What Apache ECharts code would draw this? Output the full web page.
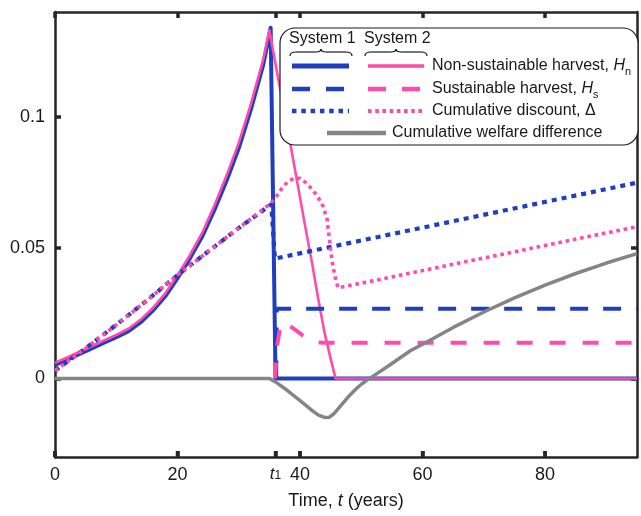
<!DOCTYPE html>
<html>
<head>
<meta charset="utf-8">
<script src="https://cdn.jsdelivr.net/npm/echarts@6/dist/echarts.min.js"></script>
<style>html,body{margin:0;padding:0;background:#fff;}#c{width:641px;height:516px;}</style>
</head>
<body>
<div id="c"></div>
<script>
// ---- data ----
const xTickVals = [0, 20, 36, 40, 60, 80];
const yTickVals = [0, 0.05, 0.1];

const blueHnT = [0,2,4,6,8,10,12,14,16,18,20,22,24,26,28,30,32,34,35.2,36.0,95];
const blueHnV = [0.0052,0.0072,0.0094,0.0115,0.0137,0.0158,0.0181,0.0215,0.0260,0.0314,0.0383,0.0458,0.0541,0.0643,0.0755,0.0880,0.1030,0.1200,0.1340,0,0];

const pinkHnT = [0,2,4,6,8,10,12,14,16,18,20,22,24,26,28,30,32,34,35,36,37,38,39,40,41,42,43,44,45,45.8,95];
const pinkHnV = [0.006,0.008,0.0102,0.0123,0.0145,0.0166,0.019,0.0225,0.027,0.0325,0.0395,0.047,0.0555,0.066,0.0775,0.090,0.105,0.122,0.133,0.120,0.1075,0.095,0.082,0.069,0.056,0.0435,0.030,0.0175,0.0075,0,0];

const blueHsT = [36.1, 36.2, 95];
const blueHsV = [0, 0.0266, 0.0266];

const pinkHsT = [35.9,36.3,36.8,37.3,38,39,40,41,42,43,44,95];
const pinkHsV = [0,0.013,0.0205,0.0215,0.0205,0.019,0.0172,0.0155,0.0143,0.0137,0.0136,0.0136];

const blueDiscT = [0,5,10,15,20,25,30,35.3,35.9,95];
const blueDiscV = [0.003,0.0115,0.0205,0.0298,0.0395,0.0485,0.0575,0.0665,0.0458,0.0748];

const pinkDiscT = [0,5,10,15,20,25,30,35,36,37,38,39,40,41,42,43,43.8,44.4,44.8,45.2,45.7,46.2,95];
const pinkDiscV = [0.003,0.0115,0.0205,0.0298,0.0395,0.0485,0.0575,0.0665,0.069,0.0725,0.0752,0.0765,0.0765,0.0747,0.0722,0.069,0.0655,0.061,0.053,0.045,0.039,0.0346,0.058];

const welfareT = [0,35,36,37,38,39,40,41,42,43,44,44.8,45.5,46,47,48,49,50,51,52,55,58,61,65,70,75,80,85,90,95];
const welfareV = [0,0,-0.0013,-0.003,-0.0047,-0.0066,-0.0085,-0.0104,-0.0123,-0.014,-0.0149,-0.0148,-0.0135,-0.0122,-0.0094,-0.0067,-0.0043,-0.0022,-0.0005,0.001,0.0057,0.0106,0.0143,0.0195,0.0254,0.0308,0.0357,0.0401,0.0441,0.0477];

// ---- styling ----
const BLUE = '#1f3fc0', PINK = '#ff4aae', GRAY = '#858585', INK = '#1a1a1a', FRAME = '#262626';
const FONT = '"Liberation Sans", Arial, sans-serif';
const GRID = { left: 55, right: 4, top: 12, bottom: 59 };
const zip = (t, v) => t.map((x, i) => [x, v[i]]);

function line(name, t, v, color, width, type, extra) {
  return Object.assign({
    name, type: 'line', data: zip(t, v), showSymbol: false, symbol: 'none',
    animation: false,
    lineStyle: { color, width, type, cap: 'butt', join: 'round' }
  }, extra || {});
}

const tickStyle = () => ({ color: FRAME, width: 3.5 });
const frameLine = () => ({ show: true, onZero: false, lineStyle: { color: FRAME, width: 2.5 } });
const ticks = (vals) => ({ show: true, inside: true, length: 6, customValues: vals, lineStyle: tickStyle() });

const chart = echarts.init(document.getElementById('c'), null, { renderer: 'canvas' });

const braceY = 52;
const braceStyle = { stroke: INK, lineWidth: 1.2, fill: null };
function qc(x1, y1, cx, cy, x2, y2) {
  return { type: 'bezierCurve', z: 102, shape: { x1, y1, x2, y2, cpx1: cx, cpy1: cy }, style: braceStyle };
}
function brace(x1, x2) {
  const m = (x1 + x2) / 2, y = braceY;
  return [
    qc(x1, y + 4, x1, y, x1 + 6, y),
    { type: 'line', z: 102, shape: { x1: x1 + 6, y1: y, x2: m - 5, y2: y }, style: braceStyle },
    qc(m - 5, y, m, y, m, y - 3),
    qc(m, y - 3, m, y, m + 5, y),
    { type: 'line', z: 102, shape: { x1: m + 5, y1: y, x2: x2 - 6, y2: y }, style: braceStyle },
    qc(x2 - 6, y, x2, y, x2, y + 4)
  ];
}
function seg(x1, x2, y, color, width, dash) {
  return {
    type: 'line', z: 102,
    shape: { x1, y1: y, x2, y2: y },
    style: { stroke: color, lineWidth: width, lineDash: dash || null, lineCap: 'butt' }
  };
}
function txt(x, y, text, rich) {
  const st = { text, fill: INK, fontSize: 16, fontFamily: FONT, verticalAlign: 'middle', align: 'left' };
  if (rich) st.rich = rich;
  return { type: 'text', z: 102, x, y, style: st };
}
const legRich = {
  n: { fontSize: 16, fontFamily: FONT, fill: INK, lineHeight: 22, verticalAlign: 'middle' },
  i: { fontSize: 16, fontFamily: FONT, fontStyle: 'italic', fill: INK, lineHeight: 22, verticalAlign: 'middle' },
  s: { fontSize: 11, fontFamily: FONT, fill: INK, lineHeight: 22, verticalAlign: 'bottom' }
};

const legendGraphic = [
  { type: 'rect', z: 100, shape: { x: 280, y: 28, width: 358, height: 117, r: 15 },
    style: { fill: '#fff', stroke: INK, lineWidth: 1.2 } },
  txt(289, 39, 'System 1'),
  txt(364, 39, 'System 2'),
  ...brace(290, 352),
  ...brace(365, 427),
  seg(292, 349, 66, BLUE, 5),
  seg(368, 424, 66, PINK, 3.5),
  seg(292, 345, 89, BLUE, 4.5, [18, 16]),
  seg(368, 422, 89, PINK, 4.5, [18, 16]),
  seg(292, 349, 111, BLUE, 4.5, [4.5, 4.8]),
  seg(368, 425, 111, PINK, 4, [3.6, 3.6]),
  seg(327, 386, 133, GRAY, 4.5),
  txt(432, 66, '{n|Non-sustainable harvest, }{i|H}{s|n}', legRich),
  txt(432, 89, '{n|Sustainable harvest, }{i|H}{s|s}', legRich),
  txt(432, 111, 'Cumulative discount, Δ'),
  txt(392, 133, 'Cumulative welfare difference')
];

const option = {
  animation: false,
  grid: Object.assign({ show: false }, GRID),
  xAxis: [{
    type: 'value', min: 0, max: 95, position: 'bottom',
    axisLine: frameLine(), splitLine: { show: false },
    axisTick: ticks(xTickVals),
    axisLabel: {
      customValues: xTickVals, margin: 9, fontSize: 18, fontFamily: FONT, color: INK,
      formatter: v => (v === 36 ? '{it|t}{sub|1}' : String(v)),
      rich: {
        it: { fontSize: 17, fontFamily: FONT, fontStyle: 'italic', color: INK, lineHeight: 22, verticalAlign: 'top', padding: [0, 0, 4, 0] },
        sub: { fontSize: 12, fontFamily: FONT, color: INK, lineHeight: 22, verticalAlign: 'middle', padding: [0, 0, 2, 0] }
      }
    },
    name: '{n|Time, }{i|t}{n| (years)}', nameLocation: 'middle', nameGap: 31,
    nameTextStyle: {
      rich: {
        n: { fontSize: 18, fontFamily: FONT, color: INK },
        i: { fontSize: 18, fontFamily: FONT, color: INK, fontStyle: 'italic' }
      }
    }
  }, {
    type: 'value', min: 0, max: 95, position: 'top',
    axisLine: frameLine(), splitLine: { show: false },
    axisTick: ticks(xTickVals),
    axisLabel: { show: false }
  }],
  yAxis: [{
    type: 'value', min: -0.03, max: 0.14, position: 'left',
    axisLine: frameLine(), splitLine: { show: false },
    axisTick: ticks(yTickVals),
    axisLabel: {
      customValues: yTickVals, margin: 10, fontSize: 18, fontFamily: FONT, color: INK,
      formatter: v => (v === 0 ? '0' : String(+v.toFixed(2)))
    }
  }, {
    type: 'value', min: -0.03, max: 0.14, position: 'right',
    axisLine: frameLine(), splitLine: { show: false },
    axisTick: ticks(yTickVals),
    axisLabel: { show: false }
  }],
  series: [
    line('blueHn', blueHnT, blueHnV, BLUE, 4, 'solid', { z: 2 }),
    line('pinkHn', pinkHnT, pinkHnV, PINK, 2.6, 'solid', { z: 3 }),
    line('blueHs', blueHsT, blueHsV, BLUE, 4, [18, 15], { z: 3 }),
    line('pinkHs', pinkHsT, pinkHsV, PINK, 4, [16, 17], { z: 3 }),
    line('blueDisc', blueDiscT, blueDiscV, BLUE, 4.2, [5, 5], { z: 4 }),
    line('pinkDisc', pinkDiscT, pinkDiscV, PINK, 3.6, [3.6, 3.8], { z: 5 }),
    line('welfare', welfareT, welfareV, GRAY, 3.5, 'solid', { z: 6 })
  ],
  graphic: legendGraphic
};
chart.setOption(option);

// bottom axis ticks, placed through the axis scale (fallback so they always show)
try {
  const yBottom = 516 - GRID.bottom;
  const bottomTicks = xTickVals.map(v => {
    const px = chart.convertToPixel({ xAxisIndex: 0 }, v);
    return {
      type: 'line', z: 50,
      shape: { x1: px, y1: yBottom, x2: px, y2: yBottom - 6 },
      style: { stroke: FRAME, lineWidth: 3.5, lineCap: 'butt' }
    };
  });
  chart.setOption({ graphic: legendGraphic.concat(bottomTicks) });
} catch (e) { /* keep chart as drawn */ }
</script>
</body>
</html>
